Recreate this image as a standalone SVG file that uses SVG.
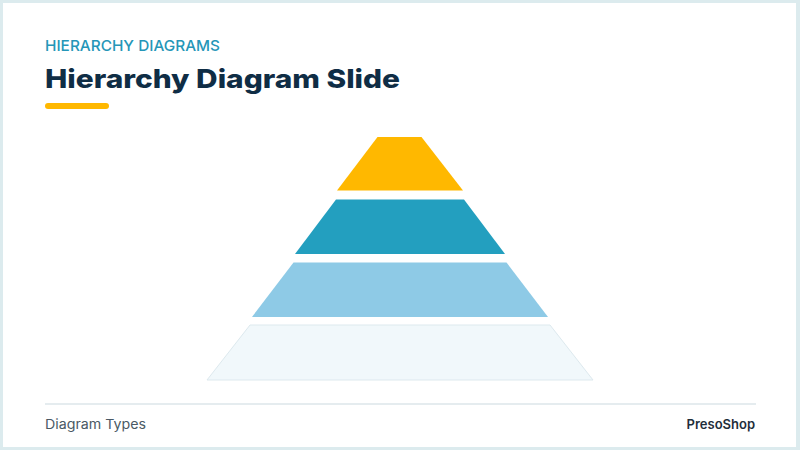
<svg xmlns="http://www.w3.org/2000/svg" width="800" height="450" viewBox="0 0 800 450">
  <style>
    .kicker { font-family: Inter, "Noto Sans", "Liberation Sans", sans-serif; font-size: 15px; fill: #2596b8; font-weight: 500; }
    .title { font-family: Inter, "Noto Sans", "Liberation Sans", sans-serif; font-size: 26px; fill: #0f2d45; font-weight: 800; }
    .foot { font-family: Inter, "Noto Sans", "Liberation Sans", sans-serif; font-size: 13px; fill: #4a5965; }
    .brand { font-family: Inter, "Noto Sans", "Liberation Sans", sans-serif; font-size: 13px; fill: #1f2e3b; font-weight: 600; }
  </style>
  <rect x="0" y="0" width="800" height="450" fill="#dcebee"/>
  <rect x="3" y="3" width="793" height="444" fill="#ffffff"/>

  <text class="kicker" x="45" y="51" textLength="175" lengthAdjust="spacingAndGlyphs">HIERARCHY DIAGRAMS</text>
  <text class="title" x="45" y="88" textLength="355" lengthAdjust="spacingAndGlyphs">Hierarchy Diagram Slide</text>
  <rect x="45" y="103" width="64" height="6" rx="3" fill="#ffb800"/>

  <g id="pyramid">
    <g id="level1"><polygon points="377.5,137 421.5,137 463,190.5 337,190.5" fill="#ffb800"/></g>
    <g id="level2"><polygon points="336,199.5 464,199.5 505,254 295,254" fill="#239fbf"/></g>
    <g id="level3"><polygon points="293.5,262.5 506.5,262.5 548,317 252,317" fill="#8ecae6"/></g>
    <g id="level4"><polygon points="250,325 550,325 593,380 207,380" fill="#f1f8fb" stroke="#dde9ee" stroke-width="1"/></g>
  </g>

  <line x1="45" y1="404" x2="756" y2="404" stroke="#dde6ea" stroke-width="1.5"/>
  <text class="foot" x="45" y="429" textLength="101" lengthAdjust="spacingAndGlyphs">Diagram Types</text>
  <text class="brand" x="755" y="429" text-anchor="end">PresoShop</text>
</svg>
